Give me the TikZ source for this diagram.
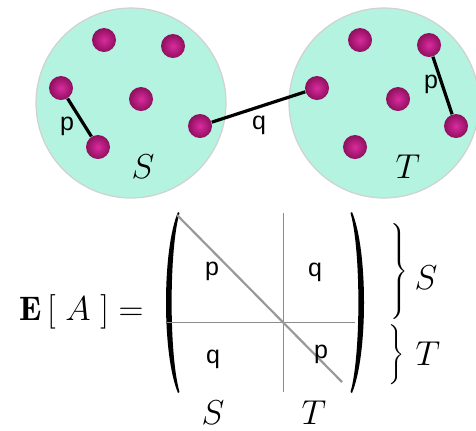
\documentclass[tikz,border=0pt]{standalone}
\usepackage{fontspec}
\setsansfont{Liberation Sans}
\definecolor{mint}{HTML}{B4F3DF}
\definecolor{dotin}{HTML}{DA2C9E}
\definecolor{dotout}{HTML}{8E0F5E}
\tikzset{
  blob/.style={circle, fill=mint, draw=black!18, line width=0.6pt, minimum size=95pt, inner sep=0pt},
  vertex/.style={circle, minimum size=12pt, inner sep=0pt, shading=radial, inner color=dotin, outer color=dotout},
  edge/.style={line width=1.6pt},
  lbl/.style={font=\fontsize{12.5}{14}\sffamily},
  mlbl/.style={font=\fontsize{17}{20}\selectfont},
  grid/.style={black!45, line width=0.5pt}
}
\begin{document}
\begin{tikzpicture}[x=0.5pt, y=-0.5pt]
    \useasboundingbox (0,0) rectangle (476,430);

    % Groups
    \node[blob] (setS) at (131,103) {};
    \node[blob] (setT) at (384,103) {};

    % Vertices in S
    \node[vertex] (s1) at (104,40) {};
    \node[vertex] (s2) at (173,46) {};
    \node[vertex] (s3) at (61,88) {};
    \node[vertex] (s4) at (141,99) {};
    \node[vertex] (s5) at (98,147) {};
    \node[vertex] (s6) at (200,126) {};

    % Vertices in T
    \node[vertex] (t1) at (360,40) {};
    \node[vertex] (t2) at (429,45) {};
    \node[vertex] (t3) at (317,88) {};
    \node[vertex] (t4) at (398,99) {};
    \node[vertex] (t5) at (456,126) {};
    \node[vertex] (t6) at (355,147) {};

    % Edges
    \draw[edge] (s3) -- (s5);
    \draw[edge] (t2) -- (t5);
    \draw[edge] (s6) -- (t3);
    \node[lbl] (ps) at (67,126) {p};
    \node[lbl] (pt) at (431,84) {p};
    \node[lbl] (qst) at (259,125) {q};
    \node[mlbl] (nameS) at (143,167) {$S$};
    \node[mlbl] (nameT) at (408,167) {$T$};

    % Expected adjacency matrix
    \node[mlbl, anchor=west] (lhs) at (12,312) {$\mathbf{E}\,[\;A\;]=$};
    \coordinate (lp1) at (178,212);
    \coordinate (lp2) at (178,393);
    \coordinate (rp1) at (352,212);
    \coordinate (rp2) at (352,393);
    \fill (lp1) .. controls (162,250) and (162,355) .. (lp2)
          -- (179.5,392) .. controls (169,355) and (169,250) .. (179.5,213) -- cycle;
    \fill (rp1) .. controls (368,250) and (368,355) .. (rp2)
          -- (350.5,392) .. controls (361,355) and (361,250) .. (350.5,213) -- cycle;
    \coordinate (top) at (283,213);
    \coordinate (bot) at (283,392);
    \coordinate (left) at (167,322);
    \coordinate (right) at (355,322);
    \coordinate (d1) at (177,215);
    \coordinate (d2) at (342,382);
    \draw[grid] (top) -- (bot);
    \draw[grid] (left) -- (right);
    \draw[black!40, line width=1.1pt] (d1) -- (d2);
    \node[lbl] (pSS) at (212,271) {p};
    \node[lbl] (qST) at (315,272) {q};
    \node[lbl] (qTS) at (213,359) {q};
    \node[lbl] (pTT) at (321,354) {p};

    % Block labels
    \node[mlbl, inner sep=0pt] (braceS) at (398,272) {$\left.\vrule height 20pt depth 20pt width 0pt\right\}$};
    \node[mlbl, inner sep=0pt] (braceT) at (395,356) {$\left.\vrule height 12pt depth 12pt width 0pt\right\}$};
    \node[mlbl] (rowS) at (426,278) {$S$};
    \node[mlbl] (rowT) at (428,354) {$T$};
    \node[mlbl] (colS) at (213,413) {$S$};
    \node[mlbl] (colT) at (314,413) {$T$};
\end{tikzpicture}
\end{document}
